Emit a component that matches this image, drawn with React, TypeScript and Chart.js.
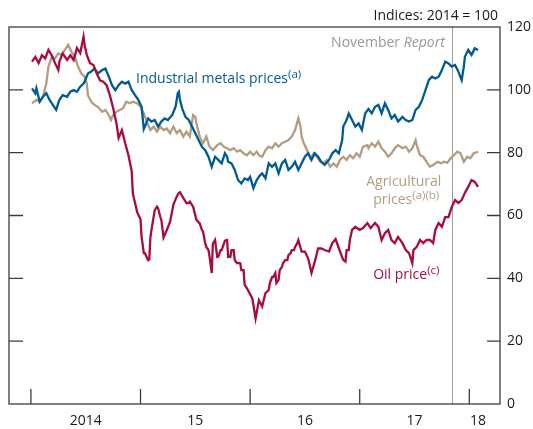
import React, { useEffect, useRef } from "react";
import { Chart, registerables } from "chart.js";

Chart.register(...registerables);

// [fractional year, index value (2014 = 100)]
const oilSeries: [number, number][] = [
  [2014.01, 109], [2014.04, 110.5], [2014.07, 108.5], [2014.1, 111], [2014.13, 110], [2014.16, 112.7],
  [2014.19, 111], [2014.22, 108.5], [2014.25, 106.3], [2014.26, 109], [2014.29, 111.6], [2014.33, 109.5],
  [2014.36, 111], [2014.39, 109.5], [2014.42, 113.3], [2014.45, 111.7], [2014.48, 116.9], [2014.49, 114.3],
  [2014.51, 111], [2014.54, 108.5], [2014.57, 107.9], [2014.6, 105.3], [2014.63, 103], [2014.66, 102.6],
  [2014.69, 101.5], [2014.72, 98.3], [2014.75, 94.2], [2014.78, 89.4], [2014.8, 84.7], [2014.83, 87.2],
  [2014.86, 83], [2014.89, 79.2], [2014.92, 74], [2014.93, 67], [2014.95, 64], [2014.97, 61],
  [2015.0, 58.8], [2015.01, 53.2], [2015.03, 48], [2015.04, 48], [2015.06, 46.5], [2015.07, 45.8],
  [2015.08, 46], [2015.09, 53], [2015.1, 55.4], [2015.12, 59.6], [2015.13, 61.7], [2015.15, 62.8],
  [2015.16, 62.4], [2015.18, 59.6], [2015.19, 58.6], [2015.21, 53], [2015.24, 55.4], [2015.27, 58],
  [2015.3, 63.5], [2015.33, 66], [2015.35, 67.2], [2015.36, 67.4], [2015.39, 65.6], [2015.42, 63.9],
  [2015.44, 64], [2015.45, 64.4], [2015.48, 62.8], [2015.51, 58.6], [2015.54, 57.5], [2015.56, 55.4],
  [2015.57, 55], [2015.59, 51.2], [2015.6, 50], [2015.62, 49], [2015.63, 46.9], [2015.65, 41.7],
  [2015.66, 51], [2015.68, 52.2], [2015.7, 46.8], [2015.71, 46.9], [2015.73, 49], [2015.74, 49],
  [2015.77, 52], [2015.79, 52.2], [2015.8, 46.8], [2015.82, 46.9], [2015.83, 49], [2015.85, 49],
  [2015.86, 45.8], [2015.88, 44.8], [2015.89, 44.9], [2015.91, 44.8], [2015.92, 42.6], [2015.94, 42.6],
  [2015.95, 38], [2015.98, 36.3], [2016.02, 33.6], [2016.05, 27.2], [2016.08, 33], [2016.11, 31],
  [2016.14, 35.3], [2016.17, 36.3], [2016.18, 38.5], [2016.2, 40.4], [2016.21, 40.4], [2016.23, 41.7],
  [2016.24, 38.5], [2016.26, 39.5], [2016.27, 42.6], [2016.29, 43.6], [2016.3, 44.8], [2016.32, 45.8],
  [2016.34, 45.8], [2016.35, 47.4], [2016.37, 48], [2016.38, 49], [2016.4, 49], [2016.41, 50],
  [2016.43, 51.2], [2016.44, 52.2], [2016.47, 48.5], [2016.5, 48.5], [2016.53, 46.3], [2016.56, 41.7],
  [2016.59, 45.3], [2016.62, 49.5], [2016.65, 49.5], [2016.68, 49], [2016.72, 48.5], [2016.75, 51.2],
  [2016.78, 52.5], [2016.81, 49.5], [2016.85, 45.8], [2016.87, 45.3], [2016.88, 49], [2016.9, 49],
  [2016.91, 52.2], [2016.93, 55.4], [2016.96, 56.4], [2017.0, 55.4], [2017.03, 56], [2017.07, 57.6],
  [2017.1, 56], [2017.14, 57.6], [2017.17, 56.4], [2017.2, 52.2], [2017.23, 54.4], [2017.26, 55.4],
  [2017.29, 52.2], [2017.32, 51.2], [2017.35, 53.2], [2017.39, 51.2], [2017.42, 49], [2017.45, 48],
  [2017.48, 44.8], [2017.49, 49], [2017.52, 50], [2017.55, 52.2], [2017.58, 51.2], [2017.61, 52.2],
  [2017.64, 52.2], [2017.67, 51.2], [2017.69, 55.4], [2017.72, 57.6], [2017.75, 56.4], [2017.78, 59.5],
  [2017.81, 59.5], [2017.84, 62.7], [2017.87, 64.9], [2017.9, 64], [2017.93, 64.9], [2017.96, 67.2],
  [2017.99, 69.1], [2018.02, 71.3], [2018.05, 70.7], [2018.08, 69.1],
];

const metalsSeries: [number, number][] = [
  [2014.01, 100.5], [2014.04, 98.9], [2014.05, 100.5], [2014.08, 96.2], [2014.11, 97.8], [2014.14, 98.9],
  [2014.17, 96.8], [2014.2, 95.2], [2014.23, 93.6], [2014.26, 96.8], [2014.29, 98.3], [2014.33, 97.8],
  [2014.36, 99.4], [2014.39, 99.9], [2014.42, 99.4], [2014.45, 101], [2014.48, 102], [2014.49, 102.6],
  [2014.52, 105.2], [2014.55, 105.8], [2014.58, 106.8], [2014.61, 105.2], [2014.65, 106.3], [2014.68, 106.8],
  [2014.71, 104.2], [2014.74, 101.5], [2014.77, 99.9], [2014.8, 101.5], [2014.83, 102.6], [2014.86, 102],
  [2014.89, 102.6], [2014.92, 99.9], [2014.95, 98.3], [2014.98, 96.8], [2015.01, 94.6], [2015.03, 87.5],
  [2015.04, 88.3], [2015.07, 90.9], [2015.1, 89.9], [2015.13, 90.4], [2015.16, 88.3], [2015.19, 89.9],
  [2015.22, 90.9], [2015.25, 90.4], [2015.29, 92], [2015.32, 94.6], [2015.34, 98.9], [2015.35, 99.4],
  [2015.36, 96.8], [2015.38, 94.1], [2015.41, 91.4], [2015.44, 90.4], [2015.47, 88.3], [2015.5, 86.2],
  [2015.53, 84], [2015.56, 81.9], [2015.59, 80.8], [2015.62, 78.7], [2015.65, 75.5], [2015.68, 78.7],
  [2015.71, 77.7], [2015.74, 76.6], [2015.77, 79.8], [2015.79, 78.7], [2015.8, 77.1], [2015.83, 76.6],
  [2015.86, 74.5], [2015.89, 71.3], [2015.92, 70.2], [2015.95, 71.8], [2015.98, 71.3], [2016.0, 72.3],
  [2016.03, 68.7], [2016.06, 71.3], [2016.09, 72.8], [2016.11, 73.4], [2016.14, 71.8], [2016.17, 76.6],
  [2016.2, 75.5], [2016.23, 76.6], [2016.26, 73.4], [2016.29, 76.6], [2016.32, 77.7], [2016.35, 74.5],
  [2016.38, 75.5], [2016.41, 77.1], [2016.44, 74.5], [2016.47, 76.6], [2016.5, 78.7], [2016.53, 79.8],
  [2016.56, 77.7], [2016.59, 79.8], [2016.62, 78.7], [2016.65, 77.1], [2016.68, 76.1], [2016.72, 77.7],
  [2016.75, 79.8], [2016.78, 80.8], [2016.81, 79.8], [2016.84, 84], [2016.85, 88.3], [2016.88, 90.4],
  [2016.9, 92.5], [2016.93, 90.4], [2016.96, 88.3], [2016.99, 89.3], [2017.02, 87.2], [2017.05, 92.5],
  [2017.08, 93.9], [2017.11, 92.5], [2017.14, 94.6], [2017.17, 95.2], [2017.2, 92.5], [2017.23, 95.7],
  [2017.26, 93.6], [2017.29, 90.9], [2017.32, 92], [2017.35, 89.9], [2017.39, 91.4], [2017.42, 90.4],
  [2017.45, 89.9], [2017.48, 90.4], [2017.51, 93.6], [2017.54, 94.6], [2017.57, 96.8], [2017.6, 99.9],
  [2017.63, 103.1], [2017.66, 104.2], [2017.69, 103.6], [2017.72, 104.2], [2017.75, 106.3], [2017.78, 109],
  [2017.81, 108.4], [2017.84, 107.4], [2017.87, 107.9], [2017.9, 105.8], [2017.93, 103.1], [2017.95, 107.4],
  [2017.96, 110.5], [2017.99, 112.7], [2018.02, 111.1], [2018.05, 113.2], [2018.08, 112.7],
];

const agriSeries: [number, number][] = [
  [2014.01, 95.7], [2014.05, 96.8], [2014.08, 96.2], [2014.11, 97.8], [2014.14, 102], [2014.16, 107.4],
  [2014.19, 110.5], [2014.22, 110], [2014.25, 111.6], [2014.28, 111.1], [2014.31, 112.7], [2014.34, 114.3],
  [2014.37, 112.1], [2014.4, 110.5], [2014.43, 107.4], [2014.46, 105.2], [2014.49, 104.2], [2014.51, 102],
  [2014.52, 98.3], [2014.55, 96.2], [2014.58, 95.2], [2014.61, 94.6], [2014.65, 93], [2014.68, 93.6],
  [2014.71, 92], [2014.73, 90.4], [2014.75, 92], [2014.78, 93], [2014.81, 93.6], [2014.84, 94.1],
  [2014.87, 96.2], [2014.9, 95.7], [2014.93, 96.2], [2014.97, 95.7], [2015.0, 94.6], [2015.03, 92.5],
  [2015.06, 89.5], [2015.09, 87.2], [2015.12, 88.3], [2015.15, 86.7], [2015.18, 88.3], [2015.21, 87.2],
  [2015.24, 87.7], [2015.27, 86.2], [2015.3, 88.3], [2015.33, 86.2], [2015.36, 87.2], [2015.39, 85.1],
  [2015.42, 86.7], [2015.45, 85.1], [2015.48, 92], [2015.5, 91.4], [2015.51, 89.3], [2015.54, 85.1],
  [2015.57, 83], [2015.6, 85.1], [2015.63, 81.9], [2015.66, 80.8], [2015.7, 82.4], [2015.73, 83],
  [2015.76, 81.9], [2015.79, 81.4], [2015.82, 80.8], [2015.85, 81.4], [2015.88, 80.3], [2015.91, 80.8],
  [2015.94, 79.8], [2015.97, 79.2], [2016.0, 80.3], [2016.03, 79.2], [2016.06, 80.3], [2016.08, 79.2],
  [2016.11, 78.7], [2016.14, 80.8], [2016.17, 81.9], [2016.2, 81.4], [2016.23, 83], [2016.26, 81.9],
  [2016.29, 83], [2016.32, 83.5], [2016.35, 84], [2016.38, 85.1], [2016.41, 87.2], [2016.44, 90.9],
  [2016.46, 88.3], [2016.47, 85.1], [2016.49, 83], [2016.52, 80.8], [2016.55, 78.2], [2016.58, 79.8],
  [2016.61, 78.7], [2016.64, 77.1], [2016.67, 76.6], [2016.7, 77.7], [2016.73, 75.5], [2016.76, 76.6],
  [2016.79, 75.5], [2016.82, 77.7], [2016.85, 78.7], [2016.88, 77.7], [2016.91, 79.2], [2016.94, 78.2],
  [2016.97, 79.8], [2017.0, 78.7], [2017.03, 81.9], [2017.07, 82.4], [2017.08, 81.4], [2017.11, 83],
  [2017.14, 81.9], [2017.17, 83.5], [2017.2, 81.4], [2017.23, 80.3], [2017.26, 78.7], [2017.29, 79.8],
  [2017.32, 81.4], [2017.35, 82.4], [2017.39, 81.4], [2017.42, 81.9], [2017.45, 80.3], [2017.48, 81.4],
  [2017.51, 84], [2017.52, 82.4], [2017.55, 79.2], [2017.58, 78.7], [2017.61, 77.1], [2017.64, 75.5],
  [2017.67, 76.1], [2017.71, 77.1], [2017.74, 76.6], [2017.77, 77.1], [2017.8, 76.8], [2017.83, 78.2],
  [2017.86, 79.2], [2017.89, 80.3], [2017.92, 79.8], [2017.95, 77.1], [2017.98, 78.7], [2018.01, 78.2],
  [2018.04, 79.8], [2018.08, 80.3],
];

const yTickValues = [20, 40, 60, 80, 100];
const yearBoundaries = [2014, 2015, 2016, 2017, 2018];
const yearLabelPositions = [2014.5, 2015.5, 2016.5, 2017.5, 2018.08];
const yearLabels = ["2014", "15", "16", "17", "18"];
const xMin = 2013.8;
const xMax = 2018.28;
const novemberReportDate = 2017.84;

const FONT = '"Open Sans", "Noto Sans", sans-serif';
const OIL = "#a60c3f";
const METALS = "#005a92";
const AGRI = "#b29c82";
const FRAME = "#3c3c3c";

type Part = { text: string; size: number; italic?: boolean; dy?: number };

function drawRich(ctx: CanvasRenderingContext2D, parts: Part[], x: number, y: number, align: "left" | "right", color: string) {
  ctx.fillStyle = color;
  ctx.textAlign = "left";
  ctx.textBaseline = "alphabetic";
  const widths = parts.map((p) => {
    ctx.font = `${p.italic ? "italic " : ""}${p.size}px ${FONT}`;
    return ctx.measureText(p.text).width;
  });
  const total = widths.reduce((a, b) => a + b, 0);
  let cx = align === "right" ? x - total : x;
  parts.forEach((p, i) => {
    ctx.font = `${p.italic ? "italic " : ""}${p.size}px ${FONT}`;
    ctx.fillText(p.text, cx, y + (p.dy || 0));
    cx += widths[i];
  });
}

const decorPlugin = {
  id: "decor",
  beforeDatasetsDraw(chart: any) {
    const { ctx, chartArea, scales } = chart;
    const nx = Math.round(scales.x.getPixelForValue(novemberReportDate)) + 0.5;
    ctx.save();
    ctx.strokeStyle = "#9c9c9c";
    ctx.lineWidth = 1;
    ctx.beginPath();
    ctx.moveTo(nx, chartArea.top);
    ctx.lineTo(nx, chartArea.bottom);
    ctx.stroke();
    ctx.restore();
  },
  afterDraw(chart: any) {
    const { ctx, chartArea, scales } = chart;
    const { left, right, top, bottom } = chartArea;
    const xs = scales.x;
    const ys = scales.y;
    ctx.save();
    ctx.strokeStyle = FRAME;
    ctx.lineWidth = 1.3;
    ctx.strokeRect(left, top, right - left, bottom - top);
    ctx.beginPath();
    yTickValues.forEach((v) => {
      const py = ys.getPixelForValue(v);
      ctx.moveTo(left, py);
      ctx.lineTo(left + 14, py);
      ctx.moveTo(right - 13, py);
      ctx.lineTo(right, py);
    });
    yearBoundaries.forEach((v) => {
      const px = xs.getPixelForValue(v);
      ctx.moveTo(px, bottom);
      ctx.lineTo(px, bottom - 15);
    });
    ctx.stroke();

    drawRich(ctx, [{ text: "Indices: 2014 = 100", size: 14 }], right - 2, 20, "right", "#1a1a1a");
    drawRich(
      ctx,
      [
        { text: "November ", size: 14 },
        { text: "Report", size: 14, italic: true },
      ],
      xs.getPixelForValue(novemberReportDate) - 7,
      ys.getPixelForValue(113.6),
      "right",
      "#999999"
    );
    drawRich(
      ctx,
      [
        { text: "Industrial metals prices", size: 14 },
        { text: "(a)", size: 11.5, dy: -5 },
      ],
      xs.getPixelForValue(2014.959),
      ys.getPixelForValue(102.2),
      "left",
      METALS
    );
    drawRich(ctx, [{ text: "Agricultural", size: 14 }], xs.getPixelForValue(2017.059), ys.getPixelForValue(69.5), "left", AGRI);
    drawRich(
      ctx,
      [
        { text: "prices", size: 14 },
        { text: "(a)(b)", size: 11.5, dy: -5 },
      ],
      xs.getPixelForValue(2017.123),
      ys.getPixelForValue(63.7),
      "left",
      AGRI
    );
    drawRich(
      ctx,
      [
        { text: "Oil price", size: 14 },
        { text: "(c)", size: 11.5, dy: -5 },
      ],
      xs.getPixelForValue(2017.123),
      ys.getPixelForValue(39.7),
      "left",
      OIL
    );
    ctx.restore();
  },
};

const toPoints = (s: [number, number][]) => s.map(([x, y]) => ({ x, y }));

export default function App() {
  const canvasRef = useRef<HTMLCanvasElement | null>(null);

  useEffect(() => {
    if (!canvasRef.current) return;
    const chart = new Chart(canvasRef.current, {
      type: "line",
      data: {
        datasets: [
          { label: "Oil price", data: toPoints(oilSeries), borderColor: OIL, borderWidth: 2.3, pointRadius: 0, tension: 0 },
          { label: "Industrial metals prices", data: toPoints(metalsSeries), borderColor: METALS, borderWidth: 2.3, pointRadius: 0, tension: 0 },
          { label: "Agricultural prices", data: toPoints(agriSeries), borderColor: AGRI, borderWidth: 2.3, pointRadius: 0, tension: 0 },
        ],
      },
      options: {
        animation: false,
        responsive: true,
        maintainAspectRatio: false,
        layout: { padding: { left: 9, top: 27, right: 0, bottom: 0 } },
        plugins: { legend: { display: false }, tooltip: { enabled: false }, title: { display: false } },
        scales: {
          x: {
            type: "linear",
            min: xMin,
            max: xMax,
            afterBuildTicks: (s: any) => {
              s.ticks = yearLabelPositions.map((v) => ({ value: v }));
            },
            afterFit: (s: any) => {
              s.height = 25;
            },
            ticks: {
              autoSkip: false,
              maxRotation: 0,
              padding: 9,
              color: "#1a1a1a",
              font: { family: FONT, size: 14 },
              callback: (_v: any, i: number) => yearLabels[i],
            },
            grid: { display: false, drawTicks: false },
            border: { display: false },
          },
          y: {
            type: "linear",
            position: "right",
            min: 0,
            max: 120,
            afterFit: (s: any) => {
              s.width = 33;
            },
            ticks: { stepSize: 20, padding: 7, color: "#1a1a1a", font: { family: FONT, size: 14 } },
            grid: { display: false, drawTicks: false },
            border: { display: false },
          },
        },
      },
      plugins: [decorPlugin],
    } as any);
    return () => chart.destroy();
  }, []);

  return (
    <div style={{ position: "absolute", left: 0, top: 0, width: 533, height: 429, background: "#fff" }}>
      <canvas ref={canvasRef} />
    </div>
  );
}
